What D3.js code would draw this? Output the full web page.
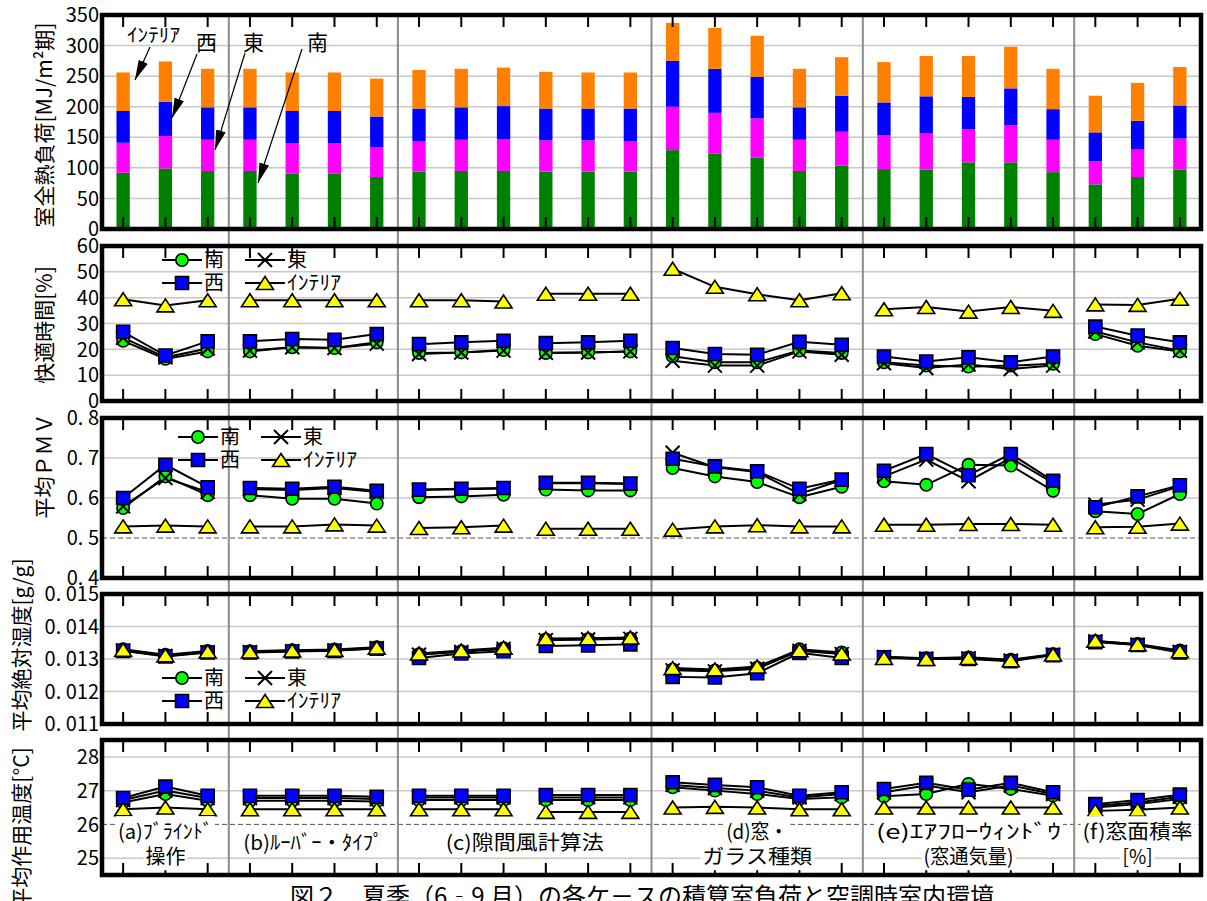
<!DOCTYPE html>
<html>
<head>
<meta charset="utf-8">
<script src="https://cdn.jsdelivr.net/npm/d3@7"></script>
<style>
  body { margin: 0; background: #fff; }
</style>
</head>
<body>
<div id="chart"></div>
<script>
// ---- data ----
const cases = d3.range(26);
const lineSegments = [[0, 2], [3, 6], [7, 9], [10, 12], [13, 17], [18, 22], [23, 25]];
const groups = [[0, 2], [3, 6], [7, 12], [13, 17], [18, 22], [23, 25]];
const groupLabels = [
  ["(a)ﾌﾞﾗｲﾝﾄﾞ", "操作"],
  ["(b)ﾙｰﾊﾞｰ・ﾀｲﾌﾟ"],
  ["(c)隙間風計算法"],
  ["(d)窓・", "ガラス種類"],
  ["(e)ｴｱﾌﾛｰｳｨﾝﾄﾞｳ", "(窓通気量)"],
  ["(f)窓面積率", "[%]"]
];
const seriesNames = ["南", "東", "西", "ｲﾝﾃﾘｱ"];

// room heat load [MJ/m2], stacked segments
const loadSouth    = [92, 99, 95, 95, 91, 91, 85, 94, 95, 95, 94, 94, 94, 129, 123, 117, 95, 104, 98, 97, 109, 109, 93, 73, 85, 97];
const loadEast     = [49, 53, 51, 51, 49, 49, 49, 50, 51, 52, 51, 51, 50, 71, 67, 64, 51, 55, 55, 60, 54, 61, 53, 38, 45, 51];
const loadWest     = [52, 56, 53, 53, 53, 53, 50, 53, 53, 54, 52, 52, 53, 75, 72, 68, 53, 59, 54, 60, 53, 60, 50, 47, 47, 54];
const loadInterior = [63, 66, 63, 63, 63, 63, 62, 63, 63, 63, 60, 59, 59, 62, 67, 67, 63, 63, 66, 66, 67, 68, 66, 60, 62, 63];

// comfortable time [%]
const comfortSouth    = [23.3, 16.3, 19.2, 19.2, 20.8, 20.5, 22.7, 18.6, 18.8, 19.7, 18.6, 18.8, 19.2, 17.3, 15.0, 15.0, 19.5, 18.6, 15.0, 13.7, 13.3, 13.7, 14.4, 25.9, 21.4, 19.2];
const comfortEast     = [24.5, 16.9, 20.3, 19.5, 20.8, 20.5, 22.2, 18.2, 18.8, 19.5, 18.7, 18.8, 19.2, 15.6, 13.7, 13.7, 19.2, 17.9, 14.6, 12.8, 14.1, 12.4, 13.7, 26.9, 22.7, 19.5];
const comfortWest     = [26.8, 17.6, 23.1, 23.1, 24.0, 23.7, 25.9, 22.0, 22.7, 23.3, 22.4, 22.7, 23.3, 20.5, 18.2, 17.9, 22.9, 21.8, 17.2, 15.3, 16.9, 15.0, 17.2, 28.8, 25.3, 22.7];
const comfortInterior = [39.4, 37.0, 39.0, 39.0, 39.0, 39.0, 39.0, 39.0, 39.0, 38.5, 41.5, 41.5, 41.5, 51.2, 44.2, 41.3, 39.0, 41.7, 35.5, 36.4, 34.6, 36.4, 34.9, 37.4, 37.2, 39.6];

// mean PMV
const pmvSouth    = [0.575, 0.654, 0.607, 0.607, 0.598, 0.598, 0.586, 0.602, 0.604, 0.608, 0.621, 0.619, 0.619, 0.675, 0.654, 0.640, 0.602, 0.628, 0.642, 0.633, 0.683, 0.681, 0.618, 0.567, 0.560, 0.610];
const pmvEast     = [0.579, 0.650, 0.615, 0.622, 0.620, 0.625, 0.615, 0.620, 0.622, 0.624, 0.637, 0.637, 0.635, 0.713, 0.677, 0.665, 0.610, 0.645, 0.654, 0.696, 0.642, 0.700, 0.638, 0.583, 0.596, 0.629];
const pmvWest     = [0.600, 0.683, 0.627, 0.625, 0.623, 0.628, 0.618, 0.621, 0.623, 0.625, 0.638, 0.638, 0.636, 0.698, 0.679, 0.667, 0.623, 0.646, 0.668, 0.710, 0.657, 0.710, 0.643, 0.577, 0.604, 0.632];
const pmvInterior = [0.529, 0.531, 0.529, 0.529, 0.529, 0.534, 0.531, 0.525, 0.527, 0.531, 0.523, 0.523, 0.523, 0.521, 0.529, 0.532, 0.529, 0.529, 0.533, 0.533, 0.535, 0.535, 0.533, 0.527, 0.528, 0.536];

// mean absolute humidity [g/g]
const humSouth    = [0.01330, 0.01313, 0.01325, 0.01324, 0.01327, 0.01329, 0.01336, 0.01315, 0.01324, 0.01333, 0.01360, 0.01361, 0.01363, 0.01268, 0.01265, 0.01273, 0.01330, 0.01320, 0.01307, 0.01302, 0.01305, 0.01298, 0.01315, 0.01355, 0.01346, 0.01326];
const humEast     = [0.01326, 0.01309, 0.01321, 0.01321, 0.01324, 0.01326, 0.01333, 0.01313, 0.01322, 0.01331, 0.01358, 0.01360, 0.01362, 0.01265, 0.01262, 0.01270, 0.01325, 0.01315, 0.01306, 0.01301, 0.01302, 0.01295, 0.01313, 0.01354, 0.01344, 0.01322];
const humWest     = [0.01325, 0.01308, 0.01320, 0.01320, 0.01323, 0.01325, 0.01332, 0.01303, 0.01317, 0.01324, 0.01340, 0.01342, 0.01345, 0.01245, 0.01243, 0.01256, 0.01319, 0.01303, 0.01305, 0.01300, 0.01300, 0.01293, 0.01312, 0.01352, 0.01343, 0.01320];
const humInterior = [0.01328, 0.01311, 0.01323, 0.01323, 0.01326, 0.01328, 0.01335, 0.01317, 0.01326, 0.01335, 0.01363, 0.01364, 0.01366, 0.01272, 0.01268, 0.01277, 0.01327, 0.01317, 0.01303, 0.01300, 0.01303, 0.01296, 0.01314, 0.01356, 0.01345, 0.01324];

// mean operative temperature [C]
const tempSouth    = [26.65, 26.90, 26.70, 26.70, 26.70, 26.70, 26.68, 26.72, 26.72, 26.72, 26.72, 26.72, 26.72, 27.10, 27.00, 26.90, 26.75, 26.80, 26.83, 26.90, 27.20, 27.05, 26.85, 26.50, 26.60, 26.75];
const tempEast     = [26.72, 27.00, 26.78, 26.78, 26.78, 26.78, 26.75, 26.80, 26.80, 26.80, 26.80, 26.80, 26.80, 27.17, 27.08, 27.00, 26.80, 26.90, 26.95, 27.15, 26.95, 27.15, 26.90, 26.55, 26.65, 26.82];
const tempWest     = [26.78, 27.12, 26.85, 26.85, 26.85, 26.85, 26.82, 26.85, 26.85, 26.85, 26.87, 26.87, 26.87, 27.25, 27.17, 27.10, 26.85, 26.95, 27.05, 27.23, 27.03, 27.23, 26.95, 26.60, 26.72, 26.88];
const tempInterior = [26.45, 26.50, 26.45, 26.45, 26.45, 26.45, 26.45, 26.45, 26.45, 26.45, 26.37, 26.37, 26.37, 26.50, 26.52, 26.50, 26.45, 26.45, 26.50, 26.50, 26.50, 26.50, 26.50, 26.40, 26.43, 26.50];

// ---- layout ----
const W = 1207, H = 901;
const FONT = "'Noto Sans CJK JP', 'Noto Sans', sans-serif";
const svg = d3.select("#chart").append("svg")
  .attr("width", W).attr("height", H)
  .style("font-family", FONT);

const left = 102, right = 1201;
const x = d3.scaleBand().domain(cases).range([left, right])
  .paddingInner(0.685).paddingOuter(0.3425);
const cx = i => x(i) + x.bandwidth() / 2;

const groupLabelWidths = [[95, 40], [140], [158], [62, 110], [185, 90], [110, 30]];

const panels = [
  { top: 15, bottom: 229, domain: [0, 350], ticks: d3.range(0, 351, 50), grid: d3.range(50, 301, 50), dash: null,
    fmt: d => d, title: "室全熱負荷[MJ/m²期]", titleX: 44, titleY: 125 },
  { top: 246, bottom: 401, domain: [0, 60], ticks: d3.range(0, 61, 10), grid: d3.range(10, 51, 10), dash: null,
    fmt: d => d, title: "快適時間[%]", titleX: 44, titleY: 325,
    series: [comfortSouth, comfortEast, comfortWest, comfortInterior], legend: { x: 162, y: 260 } },
  { top: 418, bottom: 578, domain: [0.4, 0.8], ticks: [0.4, 0.5, 0.6, 0.7, 0.8], grid: [0.6, 0.7], dash: 0.5,
    fmt: d => d.toFixed(1).replace(".", ". "), title: "平均ＰＭＶ", titleX: 44, titleY: 466,
    series: [pmvSouth, pmvEast, pmvWest, pmvInterior], legend: { x: 178, y: 437 } },
  { top: 594, bottom: 724, domain: [0.011, 0.015], ticks: [0.011, 0.012, 0.013, 0.014, 0.015], grid: [0.012, 0.013, 0.014], dash: null,
    fmt: d => d.toFixed(3).replace(".", ". "), title: "平均絶対湿度[g/g]", titleX: 21, titleY: 645,
    series: [humSouth, humEast, humWest, humInterior], legend: { x: 162, y: 678 } },
  { top: 740, bottom: 875, domain: [24.5, 28.5], ticks: [25, 26, 27, 28], grid: [25, 27, 28], dash: 26,
    fmt: d => d, title: "平均作用温度[°C]", titleX: 21, titleY: 828,
    series: [tempSouth, tempEast, tempWest, tempInterior] }
];
panels.forEach(p => { p.y = d3.scaleLinear().domain(p.domain).range([p.bottom, p.top]); });

// ---- gridlines ----
panels.forEach(p => {
  svg.append("g").selectAll("line").data(p.grid).join("line")
    .attr("x1", left).attr("x2", right)
    .attr("y1", d => p.y(d)).attr("y2", d => p.y(d))
    .attr("stroke", "#c8c8c8").attr("stroke-width", 1.5);
  if (p.dash !== null) {
    svg.append("line")
      .attr("x1", left).attr("x2", right)
      .attr("y1", p.y(p.dash)).attr("y2", p.y(p.dash))
      .attr("stroke", "#555").attr("stroke-width", 1).attr("stroke-dasharray", "5,3");
  }
});

// ---- group separators across all panels ----
const sepX = groups.slice(0, -1).map(g => (cx(g[1]) + cx(g[1] + 1)) / 2);
svg.append("g").selectAll("line").data(sepX).join("line")
  .attr("x1", d => d).attr("x2", d => d)
  .attr("y1", panels[0].top).attr("y2", panels[4].bottom)
  .attr("stroke", "#8c8c8c").attr("stroke-width", 2);

// ---- panel 1: stacked bars ----
const loadColors = ["#008000", "#ff00ff", "#0000ff", "#ff8000"];
const loadRows = cases.map(i => ({ i, s: loadSouth[i], e: loadEast[i], w: loadWest[i], n: loadInterior[i] }));
const stack = d3.stack().keys(["s", "e", "w", "n"])(loadRows);
const p1 = panels[0];
svg.append("g").selectAll("g").data(stack).join("g")
  .attr("fill", (d, k) => loadColors[k])
  .selectAll("rect").data(d => d).join("rect")
  .attr("x", d => x(d.data.i))
  .attr("width", x.bandwidth())
  .attr("y", d => p1.y(d[1]))
  .attr("height", d => p1.y(d[0]) - p1.y(d[1]));

// ---- markers ----
const markerDefs = [
  { fill: "#00ff00", path: d3.symbol(d3.symbolCircle, 120)() },
  { fill: "none", path: "M-7,-7L7,7M-7,7L7,-7" },
  { fill: "#0000ff", path: "M-6.5,-6.5H6.5V6.5H-6.5Z" },
  { fill: "#ffff00", path: "M0,-6.5L8.5,6.5L-8.5,6.5Z" }
];
function drawMarker(g, k, px, py) {
  g.append("path")
    .attr("d", markerDefs[k].path)
    .attr("transform", `translate(${px},${py})`)
    .attr("fill", markerDefs[k].fill)
    .attr("stroke", "#000").attr("stroke-width", k === 1 ? 2 : 1.6);
}

panels.slice(1).forEach(p => {
  const g = svg.append("g");
  p.series.forEach(vals => {
    const line = d3.line().x(i => cx(i)).y(i => p.y(vals[i]));
    lineSegments.forEach(([a, b]) => {
      g.append("path")
        .attr("d", line(d3.range(a, b + 1)))
        .attr("fill", "none").attr("stroke", "#000").attr("stroke-width", 2);
    });
  });
  p.series.forEach((vals, k) => {
    cases.forEach(i => drawMarker(g, k, cx(i), p.y(vals[i])));
  });
});

// ---- borders, ticks, tick labels, titles ----
panels.forEach(p => {
  const g = svg.append("g");
  g.append("rect")
    .attr("x", left).attr("y", p.top)
    .attr("width", right - left).attr("height", p.bottom - p.top)
    .attr("fill", "none").attr("stroke", "#000").attr("stroke-width", 4.5);
  g.selectAll("line.tt").data(cases).join("line")
    .attr("x1", d => cx(d)).attr("x2", d => cx(d))
    .attr("y1", p.top).attr("y2", p.top + 12)
    .attr("stroke", "#000").attr("stroke-width", 2);
  g.selectAll("line.tb").data(cases).join("line")
    .attr("x1", d => cx(d)).attr("x2", d => cx(d))
    .attr("y1", p.bottom).attr("y2", p.bottom - 12)
    .attr("stroke", "#000").attr("stroke-width", 2);
  g.selectAll("text.tick").data(p.ticks).join("text")
    .attr("x", left - 3).attr("y", d => p.y(d))
    .attr("dy", "0.36em")
    .attr("text-anchor", "end")
    .attr("font-size", 20)
    .text(p.fmt);
  g.append("text")
    .attr("transform", `translate(${p.titleX},${p.titleY}) rotate(-90)`)
    .attr("text-anchor", "middle").attr("dy", "0.36em")
    .attr("font-size", 21)
    .text(p.title);
});

// ---- legends ----
panels.filter(p => p.legend).forEach(p => {
  const g = svg.append("g");
  seriesNames.forEach((name, k) => {
    const col = k % 2;
    const row = k < 2 ? 0 : 1;
    const lx = p.legend.x + col * 83;
    const ly = p.legend.y + row * 23;
    g.append("line").attr("x1", lx).attr("x2", lx + 40)
      .attr("y1", ly).attr("y2", ly).attr("stroke", "#000").attr("stroke-width", 2);
    drawMarker(g, k, lx + 20, ly);
    const t = g.append("text").attr("x", lx + 42).attr("y", ly).attr("dy", "0.36em")
      .attr("font-size", 20).text(name);
    if (k === 3) t.attr("textLength", 54).attr("lengthAdjust", "spacingAndGlyphs");
  });
});

// ---- annotations on panel 1 ----
svg.append("defs").append("marker")
  .attr("id", "arrow").attr("viewBox", "0 0 20 10")
  .attr("refX", 20).attr("refY", 5)
  .attr("markerWidth", 20).attr("markerHeight", 10)
  .attr("markerUnits", "userSpaceOnUse")
  .attr("orient", "auto")
  .append("path").attr("d", "M0,0L20,5L0,10Z").attr("fill", "#000");
const annots = [
  { text: "ｲﾝﾃﾘｱ", tx: 127, ty: 35, x1: 150, y1: 47, x2: 135, y2: 80, len: 53 },
  { text: "西", tx: 196, ty: 42, x1: 197, y1: 54, x2: 172, y2: 118 },
  { text: "東", tx: 243, ty: 42, x1: 245, y1: 53, x2: 215, y2: 150 },
  { text: "南", tx: 307, ty: 42, x1: 302, y1: 49, x2: 258, y2: 183 }
];
annots.forEach(a => {
  const t = svg.append("text").attr("x", a.tx).attr("y", a.ty).attr("dy", "0.36em")
    .attr("font-size", 21).text(a.text);
  if (a.len) t.attr("textLength", a.len).attr("lengthAdjust", "spacingAndGlyphs").attr("font-size", 19);
  svg.append("line").attr("x1", a.x1).attr("y1", a.y1).attr("x2", a.x2).attr("y2", a.y2)
    .attr("stroke", "#000").attr("stroke-width", 1.2).attr("marker-end", "url(#arrow)");
});

// ---- group labels in bottom panel ----
groups.forEach(([a, b], gi) => {
  const lines = groupLabels[gi];
  const gx = (cx(a) + cx(b)) / 2;
  const ys = lines.length === 1 ? [843] : [832, 857];
  const g = svg.append("g");
  lines.forEach((t, j) => {
    const tw = groupLabelWidths[gi][j];
    const txt = g.append("text").attr("x", gx - tw / 2).attr("y", ys[j]).attr("dy", "0.36em")
      .attr("font-size", 20)
      .attr("textLength", tw).attr("lengthAdjust", "spacingAndGlyphs")
      .text(t);
    const bb = txt.node().getBBox();
    g.insert("rect", "text").attr("x", bb.x - 2).attr("y", bb.y).attr("width", bb.width + 4)
      .attr("height", bb.height).attr("fill", "#fff");
  });
});

// ---- caption ----
svg.append("text").attr("x", 642).attr("y", 905)
  .attr("text-anchor", "middle").attr("font-size", 24)
  .text("図２　夏季（6‐9 月）の各ケ－スの積算室負荷と空調時室内環境");
</script>
</body>
</html>
